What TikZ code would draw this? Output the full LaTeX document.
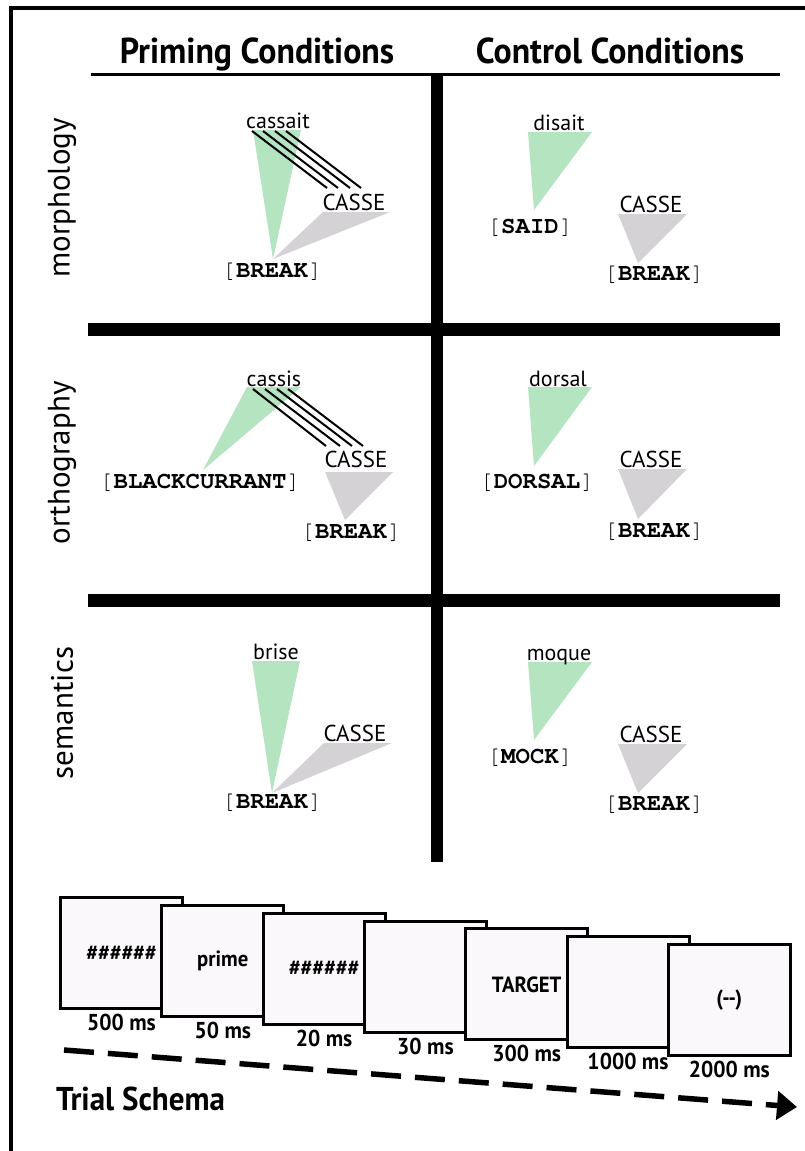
\documentclass[tikz,border=0pt]{standalone}
\usepackage[T1]{fontenc}
\usepackage{fontspec}
\setmainfont{PT Sans}
\setmonofont{Liberation Mono}
\newfontfamily\condfont[FakeStretch=0.94]{PT Sans}
\usetikzlibrary{arrows.meta,positioning,calc}

\definecolor{primegreen}{RGB}{181,228,192}
\definecolor{targetgray}{RGB}{212,210,213}
\definecolor{screenfill}{RGB}{250,248,250}

\newcommand{\courier}{\fontencoding{T1}\fontfamily{pcr}\selectfont}
\newcommand{\gloss}[1]{[\textbf{#1}]}

\tikzset{
  heading/.style={font=\condfont\bfseries\fontsize{36}{40}\selectfont, anchor=base, inner sep=0pt},
  word/.style={font=\fontsize{22}{26}\selectfont, anchor=base, inner sep=0pt},
  target/.style={font=\fontsize{23}{26}\selectfont, anchor=base, inner sep=0pt},
  glossword/.style={font=\courier\fontsize{24}{27}\selectfont, anchor=base, inner sep=0pt},
  rowlabel/.style={font=\fontsize{31}{34}\selectfont, rotate=90, inner sep=0pt},
  primetri/.style={fill=primegreen},
  targettri/.style={fill=targetgray},
  overlap/.style={line width=2pt},
  bar/.style={line width=13pt},
  screen/.style={draw, line width=3pt, fill=screenfill, minimum width=122pt, minimum height=111pt,
    font=\condfont\bfseries\fontsize{22}{26}\selectfont, inner sep=0pt},
  duration/.style={font=\condfont\bfseries\fontsize{23}{26}\selectfont, inner sep=0pt},
  timeline/.style={line width=5.5pt, dash pattern=on 30pt off 14pt, -{Triangle[length=20pt,width=28pt]}},
}

\begin{document}
\begin{tikzpicture}[x=1pt, y=-1pt]
        \useasboundingbox[fill=white] (0,0) rectangle (805,1151);

        % frame and grid
        \draw[line width=4pt] (11,1160) -- (11,8) -- (815,8);
        \draw[line width=3pt] (91,74) -- (780,74);
        \draw[line width=12pt] (437,76) -- (437,862);
        \draw[bar] (88,329) -- (780,329);
        \draw[bar] (88,600) -- (780,600);

        \node[heading] (primhead) at (257,63) {Priming Conditions};
        \node[heading] (conthead) at (610,63) {Control Conditions};

        \node[rowlabel] (morph) at (62,198) {morphology};
        \node[rowlabel] (ortho) at (62,463) {orthography};
        \node[rowlabel] (seman) at (62,713) {semantics};

        % morphology
        \fill[primetri] (253,130) -- (301,130) -- (273,259) -- cycle;
        \fill[targettri] (273,259) -- (323,212) -- (390,212) -- cycle;
        \node[word] (cassait) at (278,128) {cassait};
        \node[target] (casseM) at (354,210) {CASSE};
        \node[glossword] (breakM) at (272,277) {\gloss{BREAK}};
        \foreach \d in {-26,-15,-3,8}
          \draw[overlap] ($(cassait.base)+(\d,3)$) -- ($(casseM.base)+(\d-1,-22)$);

        \fill[primetri] (528,132) -- (592,132) -- (534,210) -- cycle;
        \fill[targettri] (618,214) -- (687,214) -- (638,263) -- cycle;
        \node[word] (disait) at (559,130) {disait};
        \node[glossword] (said) at (530,233) {\gloss{SAID}};
        \node[target] (casseMc) at (651,212) {CASSE};
        \node[glossword] (breakMc) at (654,280) {\gloss{BREAK}};

        % orthography
        \fill[primetri] (247,387) -- (301,387) -- (203,470) -- cycle;
        \fill[targettri] (325,472) -- (393,472) -- (345,520) -- cycle;
        \node[word] (cassis) at (274,386) {cassis};
        \node[target] (casseO) at (356,467) {CASSE};
        \node[glossword] (currant) at (200,488) {\gloss{BLACKCURRANT}};
        \node[glossword] (breakO) at (351,538) {\gloss{BREAK}};
        \foreach \d/\e in {-21/-30,-9/-16,3/-4,14/7}
          \draw[overlap] ($(cassis.base)+(\d,3)$) -- ($(casseO.base)+(\e,-21)$);

        \fill[primetri] (528,387) -- (592,387) -- (534,466) -- cycle;
        \fill[targettri] (618,469) -- (687,469) -- (638,519) -- cycle;
        \node[word] (dorsal) at (558,386) {dorsal};
        \node[glossword] (dorsalg) at (537,488) {\gloss{DORSAL}};
        \node[target] (casseOc) at (651,467) {CASSE};
        \node[glossword] (breakOc) at (654,537) {\gloss{BREAK}};

        % semantics
        \fill[primetri] (252,661) -- (300,661) -- (272,793) -- cycle;
        \fill[targettri] (272,793) -- (324,743) -- (392,743) -- cycle;
        \node[word] (brise) at (276,659) {brise};
        \node[target] (casseS) at (355,741) {CASSE};
        \node[glossword] (breakS) at (272,808) {\gloss{BREAK}};

        \fill[primetri] (528,662) -- (592,662) -- (534,740) -- cycle;
        \fill[targettri] (618,744) -- (687,744) -- (638,793) -- cycle;
        \node[word] (moque) at (559,660) {moque};
        \node[glossword] (mock) at (530,763) {\gloss{MOCK}};
        \node[target] (casseSc) at (651,742) {CASSE};
        \node[glossword] (breakSc) at (654,810) {\gloss{BREAK}};

        % trial schema
        \foreach \i/\shown/\dur in {1/\#\#\#\#\#\#/500 ms, 2/prime/50 ms, 3/\#\#\#\#\#\#/20 ms,
            4/{}/30 ms, 5/TARGET/300 ms, 6/{}/1000 ms, 7/(-{}-)/2000 ms} {
          \node[screen] (screen\i) at ({121.5+101.3*(\i-1)},{953+7.83*(\i-1)}) {\shown};
          \node[duration, below=4pt of screen\i] (dur\i) {\dur};
        }

        \coordinate (tstart) at (64,1050);
        \coordinate (tend) at (797,1107);
        \draw[timeline] (tstart) -- (tend);
        \node[font=\condfont\bfseries\fontsize{33}{36}\selectfont, anchor=base west, inner sep=0pt] (schema) at (56,1110) {Trial Schema};

\end{tikzpicture}
\end{document}
